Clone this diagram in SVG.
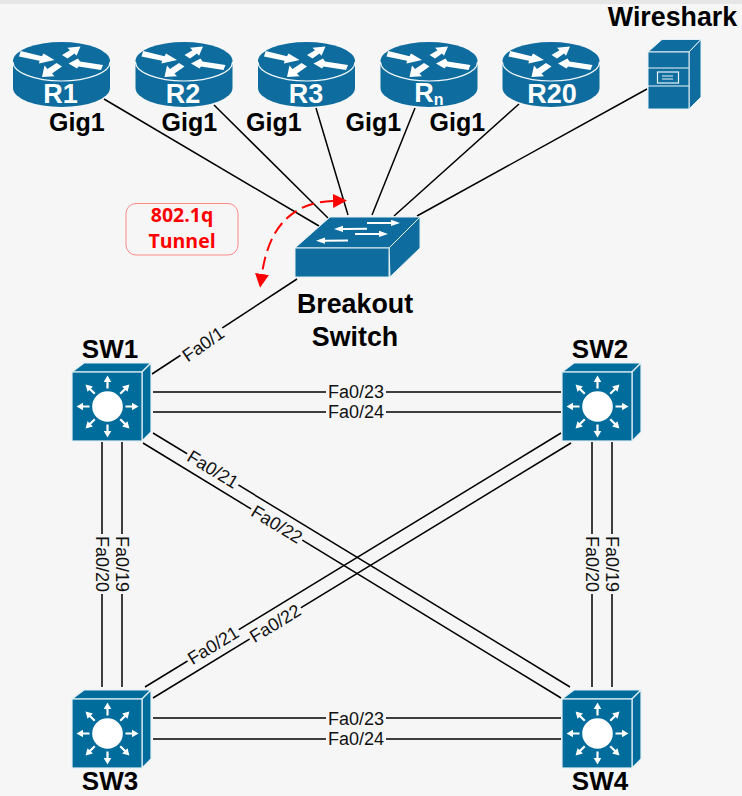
<svg xmlns="http://www.w3.org/2000/svg" width="742" height="796" viewBox="0 0 742 796">
<style>
text{font-family:"Liberation Sans",Arial,sans-serif}
.b{font-weight:700;font-size:26px;fill:#000;text-anchor:middle}
.big{font-size:26.8px}
.g{font-weight:700;font-size:25px;fill:#000}
.rt{font-weight:700;font-size:27px;fill:#fff;text-anchor:middle}
.sub{font-size:16px}
.c line{stroke:#000;stroke-width:1.5;fill:none}
.lbl rect{fill:#f6f6f6}
.lbl text{font-size:18px;fill:#111;text-anchor:middle}
.blue{fill:#0e6c9e}
.edge{stroke:#e4f0f5;stroke-width:1}
.ml{fill:#006c9c;stroke:#e4f0f5;stroke-width:1.2}
.w{fill:#fff}
.wl{stroke:#eaf3f7;stroke-width:1.2;fill:none}
.red{font-family:"Open Sans",sans-serif;font-weight:700;font-size:19.5px;fill:#f00;text-anchor:middle}
</style>
<defs>
<g id="router">
<path class="blue" d="M13,61A48.500,19 0 0 1 110,61L110,88A48.500,19 0 0 1 13,88Z"/>
<path d="M13,62A48.500,19 0 0 0 110,62" fill="none" stroke="#f2f8fb" stroke-width="1.2"/>
<polygon class="w" points="20.7,51 19,56.500 39.500,60.800 39,63.500 54.500,60 43.500,53.500 42,56.300"/>
<polygon class="w" points="62,55 67.500,58.500 74.500,53.500 76.500,55.800 80.500,46.500 67.500,47.800 70,50.300"/>
<polygon class="w" points="68.500,63.500 78,58.500 80,61.500 103,65 101,70 78.500,66.500 77,68.500"/>
<polygon class="w" points="56.500,63 62,66.500 52,73.500 54.500,76.300 42,77 44.500,65.500 47.500,69"/>
</g>
<polygon id="spoke" class="w" points="0,-31 3.800,-24.500 1.100,-24.500 1.100,-18 -1.100,-18 -1.100,-24.500 -3.800,-24.500"/>
<g id="ml">
<polygon class="ml" points="0,0 12,-9 79,-9 70,0"/>
<polygon class="ml" points="70,0 79,-9 79,60 70,69"/>
<rect class="ml" x="0" y="0" width="70" height="69"/>
<circle class="w" cx="35.500" cy="34.500" r="15.300"/>
<g transform="translate(35.500 34.500)">
<use href="#spoke"/><use href="#spoke" transform="rotate(45)"/><use href="#spoke" transform="rotate(90)"/><use href="#spoke" transform="rotate(135)"/>
<use href="#spoke" transform="rotate(180)"/><use href="#spoke" transform="rotate(225)"/><use href="#spoke" transform="rotate(270)"/><use href="#spoke" transform="rotate(315)"/>
</g>
</g>
<marker id="ra" markerUnits="userSpaceOnUse" markerWidth="16" markerHeight="16" refX="0" refY="7" orient="auto-start-reverse">
<path d="M0,0L14,7L0,14Z" fill="#f00"/>
</marker>
</defs>
<rect width="742" height="796" fill="#f6f6f6"/>
<rect width="742" height="4" fill="#e6e6e6"/>

<g id="connectors" class="c">
<line x1="104" y1="99" x2="319" y2="226"/>
<line x1="214" y1="105" x2="328" y2="218"/>
<line x1="316" y1="108" x2="348" y2="215"/>
<line x1="415" y1="108" x2="372" y2="215"/>
<line x1="519" y1="104" x2="394" y2="216"/>
<line x1="647" y1="89" x2="417" y2="216"/>
<line x1="297" y1="279" x2="152" y2="374"/>
<line x1="153" y1="392" x2="561" y2="392"/>
<line x1="153" y1="412" x2="561" y2="412"/>
<line x1="153" y1="718" x2="561" y2="718"/>
<line x1="153" y1="739" x2="561" y2="739"/>
<line x1="102" y1="442" x2="102" y2="687"/>
<line x1="122" y1="442" x2="122" y2="687"/>
<line x1="592" y1="442" x2="592" y2="687"/>
<line x1="612" y1="442" x2="612" y2="687"/>
<line x1="153" y1="433" x2="570" y2="687"/>
<line x1="143" y1="443" x2="561" y2="698"/>
<line x1="561" y1="433" x2="145" y2="687"/>
<line x1="571" y1="443" x2="153" y2="698"/>
</g>

<g id="labels">
<g class="lbl" transform="translate(203 344) rotate(-35)"><rect x="-25" y="-6.500" width="50" height="13"/><text y="6.500">Fa0/1</text></g>
<g class="lbl" transform="translate(356 391)"><rect x="-30" y="-6.500" width="60" height="13"/><text y="6.500">Fa0/23</text></g>
<g class="lbl" transform="translate(356 411)"><rect x="-30" y="-6.500" width="60" height="13"/><text y="6.500">Fa0/24</text></g>
<g class="lbl" transform="translate(356 718)"><rect x="-30" y="-6.500" width="60" height="13"/><text y="6.500">Fa0/23</text></g>
<g class="lbl" transform="translate(356 738)"><rect x="-30" y="-6.500" width="60" height="13"/><text y="6.500">Fa0/24</text></g>
<g class="lbl" transform="translate(102 564) rotate(90)"><rect x="-30" y="-6.500" width="60" height="13"/><text y="6.500">Fa0/20</text></g>
<g class="lbl" transform="translate(122 564) rotate(90)"><rect x="-30" y="-6.500" width="60" height="13"/><text y="6.500">Fa0/19</text></g>
<g class="lbl" transform="translate(592 564) rotate(90)"><rect x="-30" y="-6.500" width="60" height="13"/><text y="6.500">Fa0/20</text></g>
<g class="lbl" transform="translate(612 564) rotate(90)"><rect x="-30" y="-6.500" width="60" height="13"/><text y="6.500">Fa0/19</text></g>
<g class="lbl" transform="translate(213 469) rotate(31.400)"><rect x="-30" y="-6.500" width="60" height="13"/><text y="6.500">Fa0/21</text></g>
<g class="lbl" transform="translate(277 524) rotate(31.400)"><rect x="-30" y="-6.500" width="60" height="13"/><text y="6.500">Fa0/22</text></g>
<g class="lbl" transform="translate(213 645) rotate(-31.400)"><rect x="-30" y="-6.500" width="60" height="13"/><text y="6.500">Fa0/21</text></g>
<g class="lbl" transform="translate(275 623) rotate(-31.400)"><rect x="-30" y="-6.500" width="60" height="13"/><text y="6.500">Fa0/22</text></g>
</g>

<g id="R1"><use href="#router"/><text class="rt" x="60.500" y="103">R1</text><text class="g" x="49" y="131">Gig1</text></g>
<g id="R2"><use href="#router" x="122.500"/><text class="rt" x="183" y="103">R2</text><text class="g" x="161.500" y="131">Gig1</text></g>
<g id="R3"><use href="#router" x="245"/><text class="rt" x="306" y="103">R3</text><text class="g" x="246" y="131">Gig1</text></g>
<g id="Rn"><use href="#router" x="367.500"/><text class="rt" x="429" y="102">R<tspan class="sub" dy="3">n</tspan></text><text class="g" x="345.500" y="131">Gig1</text></g>
<g id="R20"><use href="#router" x="489.500"/><text class="rt" x="552" y="103">R20</text><text class="g" x="429.500" y="131">Gig1</text></g>

<g id="Wireshark">
<polygon class="blue edge" points="648,52 662,39.500 701,39.500 689,52"/>
<polygon class="blue edge" points="689,52 701,39.500 701,97 689,109"/>
<rect class="blue edge" x="648" y="52" width="41" height="57"/>
<path class="wl" d="M648,68H689M648,86H689"/>
<rect class="wl" x="657.500" y="72" width="21" height="11"/>
<path class="wl" d="M662,76H673M662,79H673"/>
<text class="b big" x="672.500" y="26">Wireshark</text>
</g>

<g id="Breakout">
<polygon class="blue edge" points="295,248 330,217 420,217 389,248"/>
<polygon class="blue edge" points="389,248 420,217 420,248 390,277"/>
<rect class="blue edge" x="295" y="248" width="94" height="29"/>
<polygon class="w" points="367,222 391,222 391,219.800 400,223 391,226 391,224 367,224"/>
<polygon class="w" points="367,227.700 343,228 343,225.800 334,229 343,232 343,230 367,229.700"/>
<polygon class="w" points="355,233 379,233 379,230.800 388,234 379,237 379,235 355,235"/>
<polygon class="w" points="348,239.500 325,239.800 325,237.600 316,240.800 325,243.800 325,241.800 348,241.500"/>
<text class="b big" x="355" y="313">Breakout</text>
<text class="b big" x="355" y="346">Switch</text>
</g>

<g id="Tunnel">
<rect x="126" y="203.500" width="112" height="51.500" rx="10" fill="#f6f6f6" stroke="#fb8a8a" stroke-width="1"/>
<text class="red" x="182" y="222">802.1q</text>
<text class="red" x="182" y="248">Tunnel</text>
<path d="M333,201Q272,203 262,274" fill="none" stroke="#f00" stroke-width="2" stroke-dasharray="13 6" marker-start="url(#ra)" marker-end="url(#ra)"/>
</g>

<g id="SW1"><use href="#ml" x="72" y="372"/><text class="b" x="110" y="358">SW1</text></g>
<g id="SW2"><use href="#ml" x="562" y="372"/><text class="b" x="600" y="358">SW2</text></g>
<g id="SW3"><use href="#ml" x="72" y="699"/><text class="b" x="110" y="790">SW3</text></g>
<g id="SW4"><use href="#ml" x="562" y="699"/><text class="b" x="600" y="790">SW4</text></g>
</svg>
